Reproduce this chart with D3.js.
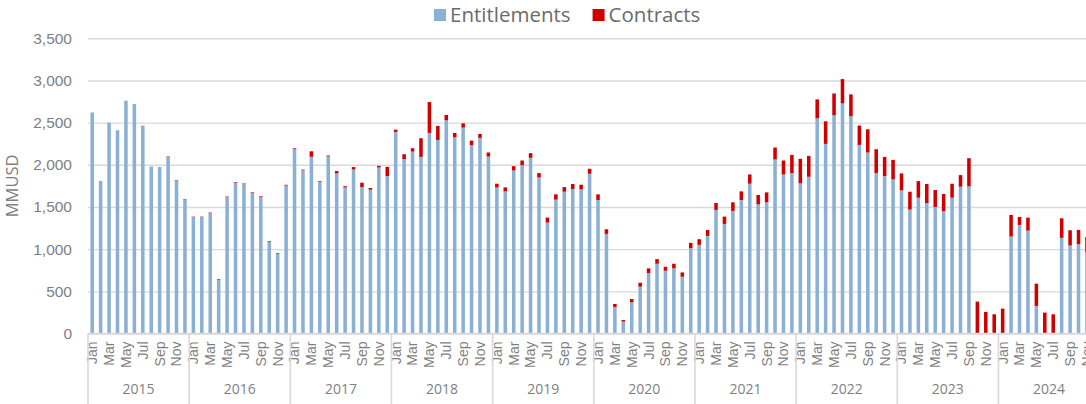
<!DOCTYPE html>
<html>
<head>
<meta charset="utf-8">
<script src="https://cdn.jsdelivr.net/npm/d3@7"></script>
<style>
  body { margin: 0; background: #fff; }
  svg { display: block; font-family: "Open Sans", sans-serif; }
</style>
</head>
<body>
<div id="container"></div>
<script>
/* DATA */
const years = [2015, 2016, 2017, 2018, 2019, 2020, 2021, 2022, 2023, 2024]
const monthNames = ["Jan", "Feb", "Mar", "Apr", "May", "Jun", "Jul", "Aug", "Sep", "Oct", "Nov", "Dec"]

// Entitlements, MMUSD, Jan 2015 .. Nov 2024
const entitlements = [
  2620, 1810, 2500, 2410, 2760, 2720, 2465, 1980, 1975, 2095, 1815, 1590,
  1380, 1380, 1430, 635, 1615, 1785, 1770, 1665, 1620, 1085, 945, 1755,
  2190, 1935, 2095, 1800, 2100, 1898, 1732, 1945, 1736, 1705, 1968, 1866,
  2390, 2067, 2157, 2094, 2378, 2295, 2528, 2327, 2441, 2232, 2319, 2098,
  1732, 1685, 1933, 1996, 2083, 1850, 1315, 1587, 1681, 1713, 1709, 1894,
  1583, 1181, 315, 142, 370, 555, 717, 827, 744, 772, 673, 1012,
  1051, 1157, 1465, 1299, 1453, 1583, 1776, 1531, 1555, 2063, 1886, 1902,
  1780, 1858, 2551, 2248, 2587, 2728, 2575, 2236, 2146, 1902, 1866, 1827,
  1697, 1469, 1610, 1547, 1500, 1449, 1610, 1740, 1744, 0, 0, 0,
  0, 1150, 1287, 1220, 327, 0, 0, 1134, 1043, 1059, 961
]

// Contracts, MMUSD, Jan 2015 .. Nov 2024
const contracts = [
  0, 0, 0, 0, 0, 0, 0, 0, 0, 5, 5, 5,
  5, 5, 5, 8, 8, 8, 8, 8, 8, 8, 8, 8,
  8, 8, 65, 8, 10, 28, 15, 28, 52, 20, 20, 110,
  27, 59, 40, 221, 366, 166, 63, 51, 51, 55, 47, 48,
  44, 47, 51, 55, 55, 52, 59, 63, 55, 59, 55, 59,
  67, 55, 35, 19, 39, 47, 55, 55, 47, 55, 51, 63,
  67, 71, 82, 87, 102, 102, 110, 111, 118, 142, 165, 216,
  291, 248, 225, 268, 259, 288, 260, 229, 275, 283, 228, 232,
  201, 212, 197, 225, 201, 205, 166, 138, 335, 378, 256, 228,
  295, 256, 95, 154, 264, 248, 228, 232, 181, 169, 181
]

const yTicks = [0, 500, 1000, 1500, 2000, 2500, 3000, 3500]
const seriesNames = ["Entitlements", "Contracts"]
const colors = ["#8AB1D3", "#D10000"]

/* CONSTANTS AND GLOBALS */
const width = 1086,
  height = 404,
  margin = { top: 38.3, left: 88, bottom: 70.5 }
const step = 8.43
const axisColor = "#d9d9d9"
const textColor = "#7f7f7f"

// one row per month
const data = entitlements.map((e, i) => ({
  key: years[Math.floor(i / 12)] + "-" + monthNames[i % 12],
  year: years[Math.floor(i / 12)],
  month: monthNames[i % 12],
  Entitlements: e,
  Contracts: contracts[i]
}))

/* SCALES */
const xScale = d3.scaleBand()
  .domain(data.map(d => d.key))
  .range([margin.left, margin.left + step * data.length])
  .paddingInner(0.58)
  .paddingOuter(0.29)

const yScale = d3.scaleLinear()
  .domain([0, 3500])
  .range([height - margin.bottom, margin.top])

const svg = d3.select("#container")
  .append("svg")
  .attr("width", width)
  .attr("height", height)

/* GRIDLINES + Y AXIS */
const yAxis = d3.axisLeft(yScale)
  .tickValues(yTicks)
  .tickFormat(d3.format(","))
  .tickSize(-(width - margin.left))
  .tickPadding(16)

const yAxisGroup = svg.append("g")
  .attr("transform", `translate(${margin.left}, 0)`)
  .call(yAxis)
yAxisGroup.select(".domain").remove()
yAxisGroup.selectAll(".tick line")
  .attr("stroke", axisColor)
  .attr("stroke-width", 1.4)
yAxisGroup.selectAll(".tick text")
  .attr("fill", textColor)
  .attr("font-size", 15.5)

svg.append("text")
  .attr("transform", `translate(18, ${yScale(1750)}) rotate(-90)`)
  .attr("text-anchor", "middle")
  .attr("fill", textColor)
  .attr("font-size", 16.5)
  .text("MMUSD")

/* STACKED BARS */
const stacked = d3.stack().keys(seriesNames)(data)

svg.append("g")
  .selectAll("g")
  .data(stacked)
  .join("g")
  .attr("fill", (d, i) => colors[i])
  .selectAll("rect")
  .data(d => d)
  .join("rect")
  .attr("x", d => xScale(d.data.key))
  .attr("width", xScale.bandwidth())
  .attr("y", d => yScale(d[1]))
  .attr("height", d => yScale(d[0]) - yScale(d[1]))

/* X AXIS */
const baseY = yScale(0)
svg.append("line")
  .attr("x1", margin.left)
  .attr("x2", width)
  .attr("y1", baseY)
  .attr("y2", baseY)
  .attr("stroke", axisColor)
  .attr("stroke-width", 1.6)

const xAxis = d3.axisBottom(xScale)
  .tickValues(data.filter((d, i) => i % 2 === 0).map(d => d.key))
  .tickFormat(k => k.split("-")[1])
  .tickSize(0)

const xAxisGroup = svg.append("g")
  .attr("transform", `translate(0, ${baseY})`)
  .call(xAxis)
xAxisGroup.select(".domain").remove()
xAxisGroup.selectAll(".tick text")
  .attr("transform", "rotate(-90)")
  .attr("text-anchor", "end")
  .attr("x", -8)
  .attr("y", 0)
  .attr("dy", "0.35em")
  .attr("fill", textColor)
  .attr("font-size", 14)

// year groups
const outer = (xScale.step() - xScale.bandwidth()) / 2
years.forEach(yr => {
  const first = data.find(d => d.year === yr)
  const x0 = xScale(first.key) - outer
  svg.append("line")
    .attr("x1", x0).attr("x2", x0)
    .attr("y1", baseY).attr("y2", height)
    .attr("stroke", axisColor)
    .attr("stroke-width", 1.6)
  svg.append("text")
    .attr("x", x0 + xScale.step() * 6)
    .attr("y", 394)
    .attr("text-anchor", "middle")
    .attr("fill", textColor)
    .attr("font-size", 14)
    .text(yr)
})

/* LEGEND */
const legend = svg.append("g")
let lx = 434
seriesNames.forEach((name, i) => {
  legend.append("rect")
    .attr("x", lx).attr("y", 9)
    .attr("width", 12).attr("height", 12)
    .attr("fill", colors[i])
  const t = legend.append("text")
    .attr("x", lx + 16)
    .attr("y", 22)
    .attr("fill", "#6b6b6b")
    .attr("font-size", 20.5)
    .text(name)
  lx = lx + 16 + t.node().getComputedTextLength() + 22
})
</script>
</body>
</html>
